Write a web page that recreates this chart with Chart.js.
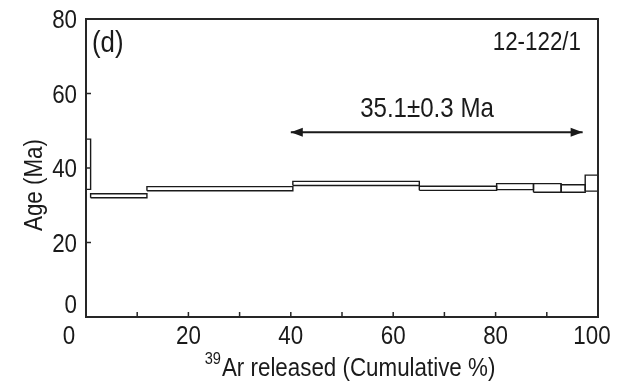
<!DOCTYPE html>
<html>
<head>
<meta charset="utf-8">
<script src="https://cdn.jsdelivr.net/npm/chart.js@4"></script>
<style>
  body { margin: 0; background: #fff; }
  #wrap { width: 619px; height: 387px; }
</style>
</head>
<body>
<div id="wrap"><canvas id="spectrum" width="619" height="387"></canvas></div>
<script>
// step boundaries (cumulative % 39Ar) and apparent ages
var cumulative = [0, 0.9, 11.9, 40.4, 65.1, 80.2, 87.4, 92.8, 97.5, 100];
var stepAge = [41.0, 32.55, 34.45, 35.85, 34.55, 35.0, 34.65, 34.5, 35.95];
var stepErr = [6.75, 0.55, 0.55, 0.55, 0.55, 0.8, 1.15, 1.0, 2.15];

var xTicks = [0, 10, 20, 30, 40, 50, 60, 70, 80, 90, 100];
var xTickLabels = [0, 20, 40, 60, 80, 100];
var yTicks = [0, 20, 40, 60, 80];

var plateauRange = [40, 97];
var plateauArrowAge = 49.6;
var plateauLabel = "35.1±0.3 Ma";
var panelLabel = "(d)";
var sampleLabel = "12-122/1";

var FONT = '"Liberation Sans", Arial, sans-serif';
var SQUEEZE = 0.86; // the original lettering is a condensed sans

// one closed rectangle per heating step
var datasets = [];
for (var i = 0; i < stepAge.length; i++) {
	var lo = stepAge[i] - stepErr[i];
	var hi = stepAge[i] + stepErr[i];
	datasets.push({
		data: [
			{ x: cumulative[i], y: lo },
			{ x: cumulative[i + 1], y: lo },
			{ x: cumulative[i + 1], y: hi },
			{ x: cumulative[i], y: hi },
			{ x: cumulative[i], y: lo }
		],
		showLine: true,
		borderColor: "#1a1a1a",
		borderWidth: 1.4,
		pointRadius: 0,
		tension: 0
	});
}
// plateau arrow shaft
datasets.push({
	data: [
		{ x: plateauRange[0], y: plateauArrowAge },
		{ x: plateauRange[1], y: plateauArrowAge }
	],
	showLine: true,
	borderColor: "#1a1a1a",
	borderWidth: 2,
	pointRadius: 0
});

// condensed text: scale horizontally, returns drawn width
function squeezedText(c, txt, x, y, size, align) {
	c.save();
	c.font = size + "px " + FONT;
	var w = c.measureText(txt).width * SQUEEZE;
	var left = x;
	if (align === "center") left = x - w / 2;
	if (align === "right") left = x - w;
	c.translate(left, y);
	c.scale(SQUEEZE, 1);
	c.textAlign = "left";
	c.fillText(txt, 0, 0);
	c.restore();
	return w;
}

//frame, ticks, labels and arrow heads
var decorations = {
	id: "decorations",
	afterDraw: function (chart) {
		var c = chart.ctx;
		var xs = chart.scales.x;
		var ys = chart.scales.y;
		var a = chart.chartArea;
		c.save();

		c.strokeStyle = "#262626";
		c.lineWidth = 2;
		c.strokeRect(a.left, a.top, a.right - a.left, a.bottom - a.top);

		// inward ticks
		c.lineWidth = 1.5;
		c.beginPath();
		xTicks.forEach(function (v) {
			if (v === 0 || v === 100) return;
			var px = xs.getPixelForValue(v);
			c.moveTo(px, a.bottom);
			c.lineTo(px, a.bottom - 5);
		});
		yTicks.forEach(function (v) {
			if (v === 0 || v === 80) return;
			var py = ys.getPixelForValue(v);
			c.moveTo(a.left, py);
			c.lineTo(a.left + 5, py);
		});
		c.stroke();

		c.fillStyle = "#1a1a1a";
		c.textBaseline = "alphabetic";

		// x tick labels
		xTickLabels.forEach(function (v) {
			var px = xs.getPixelForValue(v);
			if (v === 0) px -= 17;
			if (v === 100) px -= 6;
			squeezedText(c, String(v), px, a.bottom + 27, 26, "center");
		});

		// y tick labels
		yTicks.forEach(function (v) {
			var py = ys.getPixelForValue(v);
			if (v === 0) py -= 13;
			squeezedText(c, String(v), a.left - 9, py + 9, 26, "right");
		});

		// y title
		c.save();
		c.translate(42, 185);
		c.rotate(-Math.PI / 2);
		squeezedText(c, "Age (Ma)", 0, 0, 26, "center");
		c.restore();

		// x title with superscript
		var main = "Ar released (Cumulative %)";
		c.font = "26px " + FONT;
		var mainW = c.measureText(main).width * SQUEEZE;
		c.font = "17px " + FONT;
		var supW = c.measureText("39").width * SQUEEZE;
		var x0 = (a.left + a.right) / 2 + 8 - (supW + mainW + 1) / 2;
		squeezedText(c, "39", x0, 364, 17, "left");
		squeezedText(c, main, x0 + supW + 1, 376, 26, "left");

		// panel + sample labels
		squeezedText(c, panelLabel, a.left + 6, 52, 30, "left");
		squeezedText(c, sampleLabel, a.right - 17, 50, 26, "right");

		// plateau label
		squeezedText(c, plateauLabel, xs.getPixelForValue(66.6), 117, 28, "center");

		// arrow heads
		var ay = ys.getPixelForValue(plateauArrowAge);
		var l = xs.getPixelForValue(plateauRange[0]);
		var r = xs.getPixelForValue(plateauRange[1]);
		c.beginPath();
		c.moveTo(l, ay);
		c.lineTo(l + 12, ay - 4.5);
		c.lineTo(l + 12, ay + 4.5);
		c.closePath();
		c.moveTo(r, ay);
		c.lineTo(r - 12, ay - 4.5);
		c.lineTo(r - 12, ay + 4.5);
		c.closePath();
		c.fill();

		c.restore();
	}
};

var chart = new Chart(document.getElementById("spectrum"), {
	type: "scatter",
	data: { datasets: datasets },
	options: {
		responsive: false,
		animation: false,
		layout: { padding: { left: 86, right: 21, top: 19, bottom: 70 } },
		plugins: { legend: { display: false }, tooltip: { enabled: false } },
		scales: {
			x: { type: "linear", min: 0, max: 100, display: false },
			y: { type: "linear", min: 0, max: 80, display: false }
		}
	},
	plugins: [decorations]
});
</script>
</body>
</html>
